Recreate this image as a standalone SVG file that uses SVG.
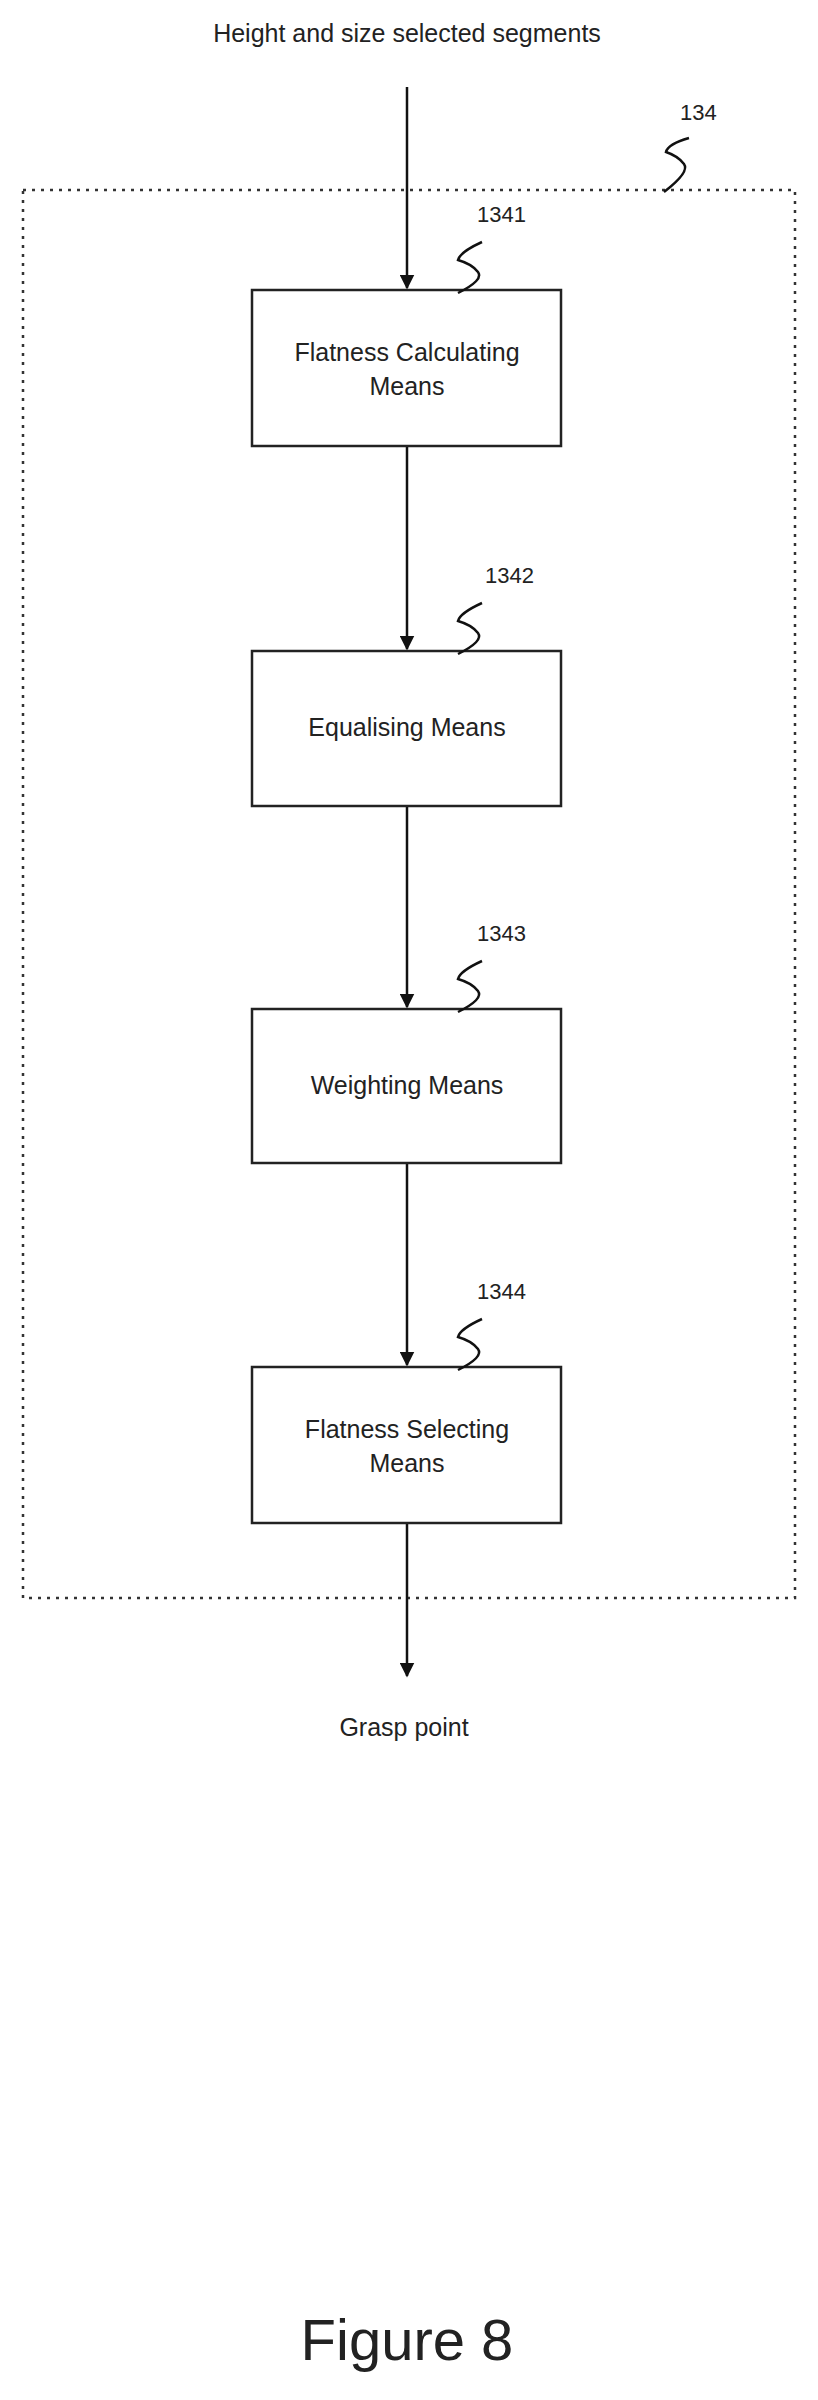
<svg xmlns="http://www.w3.org/2000/svg" width="818" height="2400" viewBox="0 0 818 2400">
<style>
text{font-family:"Liberation Sans",Arial,sans-serif;fill:#222;text-anchor:middle}
.t{font-size:25px}
.l{font-size:22px;text-anchor:start}
.box{fill:#fff;stroke:#222;stroke-width:2.5}
.c{stroke:#111;stroke-width:2.5;fill:none}
.sq{stroke:#111;stroke-width:2.5;fill:none}
</style>
<defs><marker id="a" viewBox="0 0 10 10" refX="9" refY="5" markerWidth="6" markerHeight="6" orient="auto"><path d="M0,0L10,5L0,10z" fill="#111"/></marker></defs>
<text class="t" x="407" y="42">Height and size selected segments</text>
<g id="container"><rect x="23" y="190" width="772" height="1408" fill="none" stroke="#333" stroke-width="2.5" stroke-dasharray="3,6"/>
<path class="sq" d="M664,192Q690,172 684,164T666,152Q668,144 689,138"/><text class="l" x="680" y="120">134</text></g>
<g id="connectors">
<path class="c" d="M407,87V288" marker-end="url(#a)"/>
<path class="c" d="M407,446V649" marker-end="url(#a)"/>
<path class="c" d="M407,806V1007" marker-end="url(#a)"/>
<path class="c" d="M407,1163V1365" marker-end="url(#a)"/>
<path class="c" d="M407,1523V1676" marker-end="url(#a)"/>
</g>
<g id="n1341"><rect class="box" x="252" y="290" width="309" height="156"/><text class="t" x="407" y="361">Flatness Calculating</text><text class="t" x="407" y="395">Means</text><path class="sq" d="M458,293Q484,280 478,272T458,260Q460,252 482,242"/><text class="l" x="477" y="222">1341</text></g>
<g id="n1342"><rect class="box" x="252" y="651" width="309" height="155"/><text class="t" x="407" y="736">Equalising Means</text><path class="sq" d="M458,654Q484,641 478,633T458,621Q460,613 482,603"/><text class="l" x="485" y="583">1342</text></g>
<g id="n1343"><rect class="box" x="252" y="1009" width="309" height="154"/><text class="t" x="407" y="1094">Weighting Means</text><path class="sq" d="M458,1012Q484,999 478,991T458,979Q460,971 482,961"/><text class="l" x="477" y="941">1343</text></g>
<g id="n1344"><rect class="box" x="252" y="1367" width="309" height="156"/><text class="t" x="407" y="1438">Flatness Selecting</text><text class="t" x="407" y="1472">Means</text><path class="sq" d="M458,1370Q484,1357 478,1349T458,1337Q460,1329 482,1319"/><text class="l" x="477" y="1299">1344</text></g>
<text class="t" x="404" y="1736">Grasp point</text>
<text x="407" y="2360" style="font-size:58px">Figure 8</text>
</svg>
